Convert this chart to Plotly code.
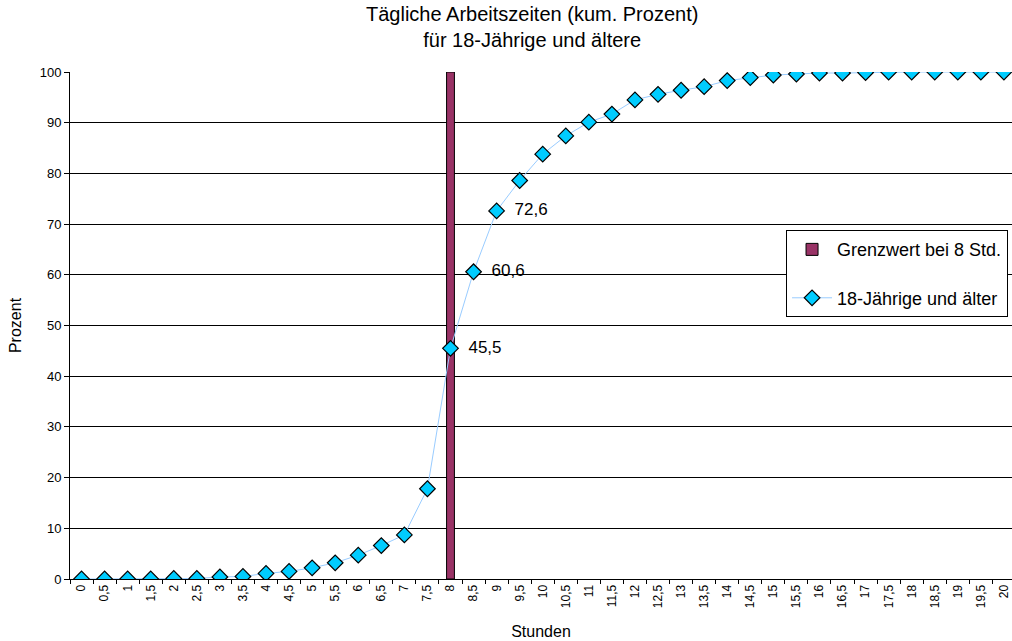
import plotly.graph_objects as go

# Hours worked per day (category labels, German decimal comma)
stunden = ["0", "0,5", "1", "1,5", "2", "2,5", "3", "3,5", "4", "4,5",
           "5", "5,5", "6", "6,5", "7", "7,5", "8", "8,5", "9", "9,5",
           "10", "10,5", "11", "11,5", "12", "12,5", "13", "13,5", "14", "14,5",
           "15", "15,5", "16", "16,5", "17", "17,5", "18", "18,5", "19", "19,5", "20"]

# Cumulative percentage, persons aged 18 and older
kum_prozent = [0.0, 0.0, 0.0, 0.0, 0.1, 0.1, 0.4, 0.5, 1.1, 1.5,
               2.2, 3.2, 4.7, 6.6, 8.7, 17.8, 45.5, 60.6, 72.6, 78.6,
               83.8, 87.4, 90.1, 91.7, 94.5, 95.6, 96.4, 97.1, 98.3, 98.9,
               99.4, 99.6, 99.8, 99.8, 99.9, 100.0, 100.0, 100.0, 100.0, 100.0, 100.0]

# Threshold bar at 8 hours
grenz_x = ["8"]
grenz_y = [100]

# Points that carry a value label
beschriftet = ["8", "8,5", "9"]

NBSP = "\u00a0"
labels = [NBSP * 2 + f"{v:.1f}".replace(".", ",") if s in beschriftet else ""
          for s, v in zip(stunden, kum_prozent)]

FONT = "Liberation Sans, Arial, sans-serif"

fig = go.Figure()

fig.add_trace(go.Bar(
    x=grenz_x, y=grenz_y,
    name="Grenzwert bei 8 Std.",
    width=0.34,
    marker=dict(color="#993366", line=dict(color="black", width=1)),
    legendgroup="a",
))

fig.add_trace(go.Scatter(
    x=stunden, y=kum_prozent,
    name="18-Jährige und älter",
    mode="lines+markers+text",
    line=dict(color="#99CCFF", width=1),
    marker=dict(symbol="diamond", size=12, color="#00CCFF",
                line=dict(color="black", width=1.2)),
    text=labels,
    textposition="middle right",
    textfont=dict(family=FONT, size=17, color="black"),
    legendgroup="b",
))

# Two-line chart title above the plot area
fig.add_annotation(
    text="Tägliche Arbeitszeiten (kum. Prozent)<br>für 18-Jährige und ältere",
    xref="paper", yref="paper",
    x=(532 - 70) / 942, y=1 + 19 / 507,
    xanchor="center", yanchor="bottom",
    showarrow=False,
    font=dict(size=20, family=FONT, color="black"),
)

fig.update_layout(
    width=1012, height=641,
    margin=dict(l=70, r=0, t=72, b=62),
    paper_bgcolor="white", plot_bgcolor="white",
    font=dict(family=FONT, color="black"),
    showlegend=True,
    legend=dict(
        x=0.9958, xanchor="right", y=0.688, yanchor="top",
        bgcolor="white", bordercolor="black", borderwidth=1,
        font=dict(size=18, family=FONT, color="black"),
        tracegroupgap=22, itemwidth=40,
    ),
    xaxis=dict(
        type="category",
        categoryorder="array", categoryarray=stunden,
        range=[-0.5, 40.35],
        tickson="boundaries",
        ticks="outside", ticklen=4, tickcolor="black",
        tickangle=-90,
        tickfont=dict(size=12, family=FONT, color="black"),
        showline=True, linecolor="black", linewidth=1,
        showgrid=False,
        title=dict(text="Stunden", font=dict(size=16, family=FONT), standoff=18),
        automargin=False,
    ),
    yaxis=dict(
        range=[0, 100], dtick=10,
        ticks="outside", ticklen=5, tickcolor="black",
        tickfont=dict(size=13, family=FONT, color="black"),
        showline=True, linecolor="black", linewidth=1,
        showgrid=True, gridcolor="black", gridwidth=1,
        zeroline=False,
        title=dict(text="Prozent", font=dict(size=16, family=FONT), standoff=14),
        automargin=False,
    ),
)

fig.write_html("out.html")
